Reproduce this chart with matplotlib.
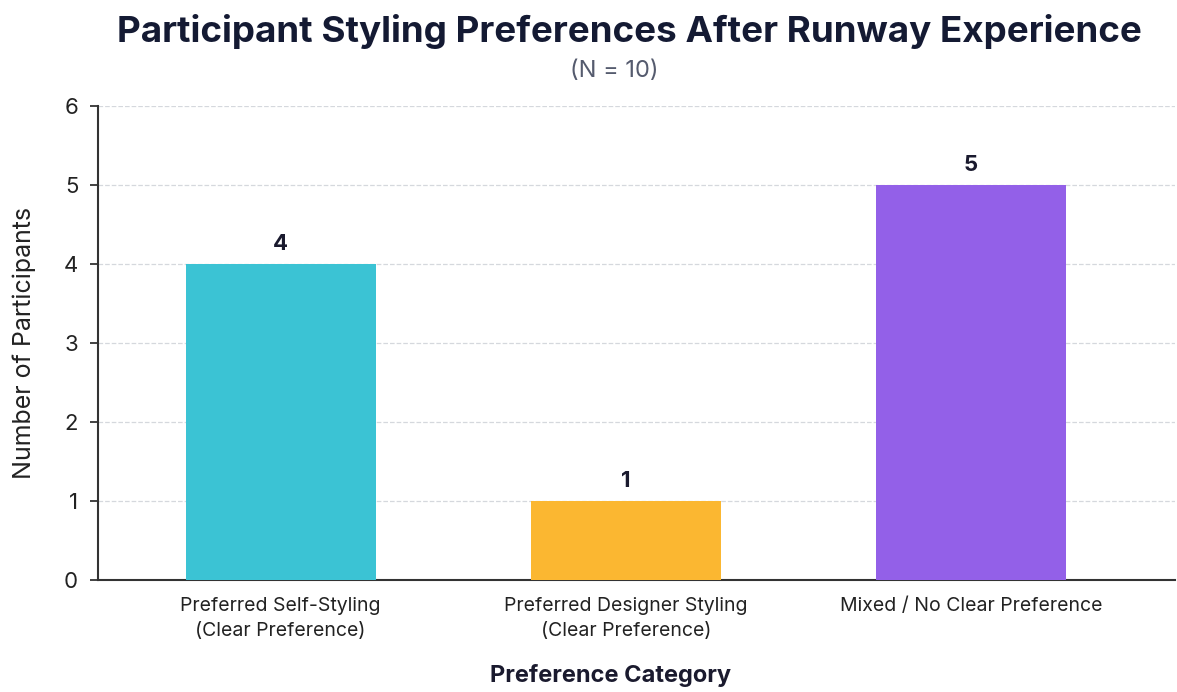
import matplotlib.pyplot as plt

plt.rcParams['font.family'] = ['Inter', 'DejaVu Sans']

categories = ['Preferred Self-Styling\n(Clear Preference)',
              'Preferred Designer Styling\n(Clear Preference)',
              'Mixed / No Clear Preference']
counts = [4, 1, 5]
colors = ['#3BC3D4', '#FBB731', '#9360E8']

fig = plt.figure(figsize=(11.77, 6.92), dpi=100)
ax = fig.add_axes([0.083, 0.162, 0.915, 0.685])

x = range(len(categories))
bars = ax.bar(x, counts, width=0.55, color=colors, zorder=3)

# value labels above each bar
for b, v in zip(bars, counts):
    ax.text(b.get_x() + b.get_width() / 2, v + 0.12, str(v),
            ha='center', va='bottom', fontsize=16, fontweight='bold', color='#1a1a2e')

ax.set_xlim(-0.53, 2.59)
ax.set_ylim(0, 6)
ax.set_yticks(range(7))
ax.set_xticks(list(x))
ax.set_xticklabels(categories, fontsize=14, color='#222222', linespacing=1.55)
ax.tick_params(axis='y', labelsize=16, colors='#222222', length=6, width=1.2, pad=8)
ax.tick_params(axis='x', length=0, pad=12)
ax.grid(axis='y', linestyle='--', color='#d5d8dd', linewidth=0.9, zorder=0)

for s in ['top', 'right']:
    ax.spines[s].set_visible(False)
ax.spines['left'].set_color('#333333')
ax.spines['bottom'].set_color('#333333')
ax.spines['left'].set_linewidth(1.5)
ax.spines['bottom'].set_linewidth(1.5)

ax.set_ylabel('Number of Participants', fontsize=18, color='#222222', labelpad=20)
ax.set_xlabel('Preference Category', fontsize=17, fontweight='bold',
              color='#1a1a2e', labelpad=14)
ax.xaxis.set_label_coords(0.476, -0.178)

fig.text(0.535, 0.955, 'Participant Styling Preferences After Runway Experience',
         ha='center', va='center', fontsize=26.5, fontweight='bold', color='#141a33')
fig.text(0.522, 0.897, '(N = 10)', ha='center', va='center', fontsize=17, color='#555b6e')

fig.savefig('out.png', dpi=100, facecolor='white')
